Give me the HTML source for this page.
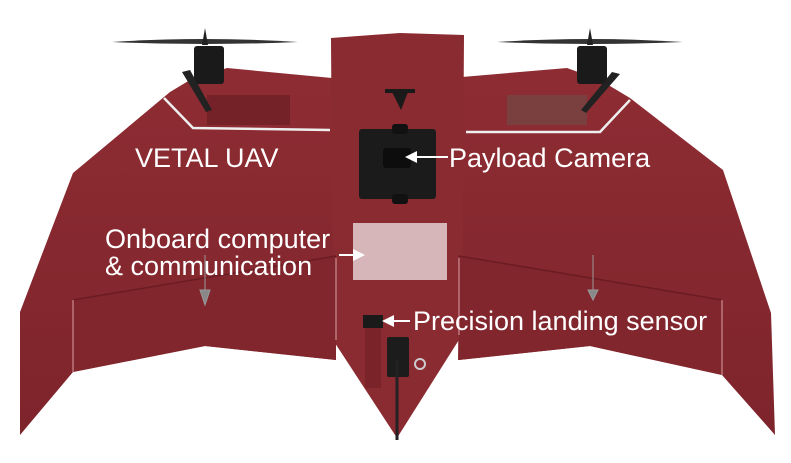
<!DOCTYPE html>
<html><head><style>
html,body{margin:0;padding:0;background:#fff;}
svg{display:block;}
text{font-family:"Liberation Sans",Arial,sans-serif;fill:#fff;}
</style></head><body>
<svg width="791" height="463" viewBox="0 0 791 463" xmlns="http://www.w3.org/2000/svg">
<defs>
<linearGradient id="g" x1="0" y1="0" x2="0" y2="1">
<stop offset="0" stop-color="#8e2c33"/><stop offset="1" stop-color="#7e242b"/>
</linearGradient>
<marker id="ah" markerWidth="6" markerHeight="6" refX="5" refY="3" orient="auto"><path d="M0,0 L6,3 L0,6 Z" fill="#fff"/></marker>
</defs>
<path d="M20,435 L20,312 L73,173 L170,92 L190,80 L227,68 L332,78 L336,360 L205,346 L73,372 Z" fill="url(#g)"/>
<path d="M775,435 L771,313 L723,170 L630,98 L600,80 L567,68 L462,77 L458,360 L590,346 L722,375 Z" fill="url(#g)"/>
<path d="M331,38 L400,33 L464,35 L462,335 L397,438 L333,340 Z" fill="#8a2a31"/>
<path d="M73,300 L336,256 L336,360 L205,346 L73,372 Z" fill="#82262d"/>
<path d="M722,300 L459,256 L459,360 L590,346 L722,375 Z" fill="#82262d"/>
<path d="M73,300 L336,256" stroke="#6a1c22" stroke-width="1.5"/>
<path d="M722,300 L459,256" stroke="#6a1c22" stroke-width="1.5"/>
<path d="M73,300 L73,372 M722,300 L722,375 M336,258 L336,340 M459,258 L459,335" stroke="#d9a0a4" stroke-width="1"/>
<path d="M164,98 L193,128 L330,130" stroke="#eee" stroke-width="2.5" fill="none"/>
<path d="M466,132 L600,132 L630,100" stroke="#eee" stroke-width="2.5" fill="none"/>
<rect x="207" y="95" width="83" height="30" fill="#742228"/>
<rect x="507" y="95" width="80" height="30" fill="#7a4040"/>
<path d="M112,42 Q205,36 298,42 Q205,46 112,42 Z" fill="#333"/>
<rect x="194" y="46" width="30" height="38" rx="3" fill="#1a1a1a"/>
<path d="M205,28 L208,45 L202,45 Z" fill="#222"/>
<path d="M182,72 L190,70 L212,110 L206,112 Z" fill="#222"/>
<path d="M497,42 Q590,36 683,42 Q590,46 497,42 Z" fill="#333"/>
<rect x="577" y="46" width="30" height="38" rx="3" fill="#1a1a1a"/>
<path d="M590,28 L593,45 L587,45 Z" fill="#222"/>
<path d="M612,72 L620,74 L586,113 L581,110 Z" fill="#222"/>
<rect x="385" y="89" width="30" height="4" fill="#1a1a1a"/>
<path d="M392,92 L408,92 L401,110 Z" fill="#1a1a1a"/>
<rect x="359" y="129" width="77" height="70" rx="3" fill="#1b1b1b"/>
<rect x="383" y="148" width="28" height="20" rx="3" fill="#0d0d0d"/>
<rect x="392" y="124" width="16" height="10" rx="3" fill="#111"/>
<rect x="392" y="194" width="16" height="10" rx="3" fill="#111"/>
<rect x="353" y="223" width="94" height="57" fill="#d7b6b9"/>
<rect x="363" y="315" width="20" height="13" fill="#1a1a1a"/>
<rect x="365" y="328" width="16" height="60" fill="#7a2329"/>
<rect x="387" y="337" width="22" height="40" rx="2" fill="#1c1c1c"/>
<circle cx="420" cy="364" r="5" fill="none" stroke="#ccc" stroke-width="2"/>
<path d="M397,360 L397,440" stroke="#222" stroke-width="3"/>
<path d="M205,255 L205,290 M200,290 L210,290 L205,305 Z" stroke="#999" fill="#888"/>
<path d="M593,255 L593,290 M588,290 L598,290 L593,300 Z" stroke="#999" fill="#888"/>
<text x="135" y="167" font-size="27">VETAL UAV</text>
<text x="449" y="167" font-size="27">Payload Camera</text>
<path d="M448,157 L407,157" stroke="#fff" stroke-width="2" marker-end="url(#ah)"/>
<text x="105" y="248" font-size="27">Onboard computer</text>
<text x="105" y="275" font-size="27">&amp; communication</text>
<path d="M339,255 L363,255" stroke="#fff" stroke-width="2" marker-end="url(#ah)"/>
<text x="413" y="330" font-size="27">Precision landing sensor</text>
<path d="M410,321 L384,321" stroke="#fff" stroke-width="2" marker-end="url(#ah)"/>
</svg>
</body></html>
